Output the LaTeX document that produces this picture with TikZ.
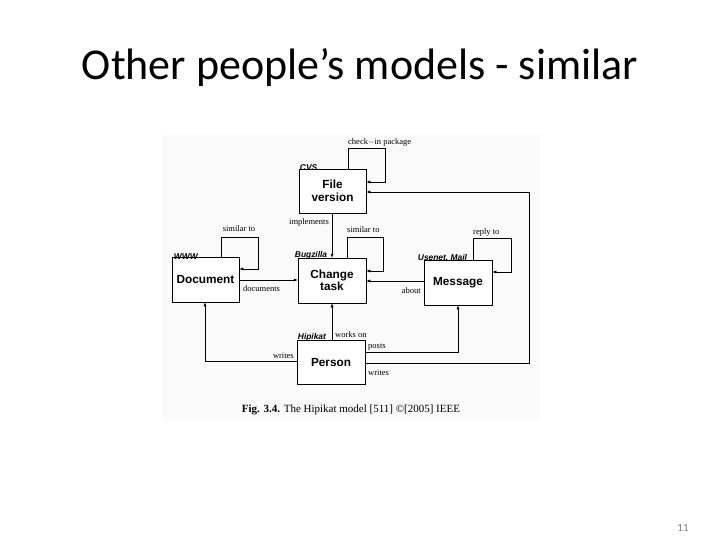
\documentclass[tikz,border=0pt]{standalone}
\usepackage{fontspec}
\setmainfont{Liberation Serif}
\setsansfont{Liberation Sans}
\newfontfamily\slidefont{Carlito}
\usetikzlibrary{arrows.meta}
\begin{document}
\begin{tikzpicture}[x=1pt,y=-1pt,
  box/.style={draw, line width=0.5pt, fill=white, inner sep=0pt, font=\sffamily\bfseries\fontsize{11.8}{12.5}\selectfont, align=center},
  tag/.style={font=\sffamily\bfseries\itshape\fontsize{8.4}{9}\selectfont, inner sep=0pt},
  lbl/.style={font=\fontsize{8.5}{9}\selectfont, inner sep=0pt},
  conn/.style={line width=0.5pt, -{Latex[length=4pt,width=3pt]}}]
\useasboundingbox (0,0) rectangle (720,540);
\fill[gray!4] (162,135) rectangle (540,420);
\node[font=\slidefont\fontsize{44}{48}\selectfont, anchor=base] (title) at (360,80) {Other people’s models - similar};
\node[font=\slidefont\fontsize{11}{12}\selectfont, text=gray, anchor=base] (pg) at (683,531) {11};

% boxes
\node[box, minimum width=67pt, minimum height=44pt] (fv) at (332.5,191) {File\\version};
\node[box, minimum width=67pt, minimum height=45pt] (doc) at (205.5,279.5) {Document};
\node[box, minimum width=68pt, minimum height=45pt] (ct) at (332,280.5) {Change\\task};
\node[box, minimum width=68pt, minimum height=45pt] (msg) at (458,282.5) {Message};
\node[box, minimum width=68pt, minimum height=44pt] (per) at (331,362) {Person};

% tags
\node[tag, anchor=south west] (tcvs) at ([xshift=1pt,yshift=-2pt]fv.north west) {CVS};
\node[tag, anchor=south west] (twww) at ([xshift=2pt,yshift=-3pt]doc.north west) {WWW};
\node[tag, anchor=south west] (tbug) at ([xshift=-3pt,yshift=-2pt]ct.north west) {Bugzilla};
\node[tag, anchor=south west] (tuse) at ([xshift=-6pt,yshift=-2pt]msg.north west) {Usenet, Mail};
\node[tag, anchor=south west] (thip) at ([xshift=1pt,yshift=-2pt]per.north west) {Hipikat};

% coordinates
\coordinate (c1a) at (348,148); \coordinate (c1b) at (385,148); \coordinate (c1c) at (385,182);
\coordinate (c2a) at (221,237); \coordinate (c2b) at (258,237); \coordinate (c2c) at (258,269);
\coordinate (c3a) at (347,237); \coordinate (c3b) at (383,237); \coordinate (c3c) at (383,271);
\coordinate (c4a) at (473,238); \coordinate (c4b) at (511,238); \coordinate (c4c) at (511,272);
\coordinate (c5a) at (205,361);
\coordinate (c6a) at (458,352);
\coordinate (c7a) at (529,363); \coordinate (c7b) at (529,192);

% check-in package
\draw[conn] (fv.north -| c1a) -- (c1a) -- (c1b) -- (c1c) -- (c1c -| fv.east);
\node[lbl, anchor=base west] (lchk) at (348,145) {check$-$in package};
% long writes loop
\draw[conn] (per.east |- c7a) -- (c7a) -- (c7b) -- (c7b -| fv.east);
\node[lbl, anchor=base west] (lwr2) at (368,375) {writes};
% implements
\draw[conn] (fv.south -| 332,0) -- (ct.north -| 332,0);
\node[lbl, anchor=base east] (limp) at (329,225) {implements};
% similar to (document)
\draw[conn] (doc.north -| c2a) -- (c2a) -- (c2b) -- (c2c) -- (c2c -| doc.east);
\node[lbl, anchor=base] (lsim1) at (239,232) {similar to};
% similar to (change task)
\draw[conn] (ct.north -| c3a) -- (c3a) -- (c3b) -- (c3c) -- (c3c -| ct.east);
\node[lbl, anchor=base west] (lsim2) at (347,233) {similar to};
% reply to
\draw[conn] (msg.north -| c4a) -- (c4a) -- (c4b) -- (c4c) -- (c4c -| msg.east);
\node[lbl, anchor=base west] (lrep) at (473,235) {reply to};
% documents
\draw[conn] (doc.east |- 0,280) -- (ct.west |- 0,280);
\node[lbl, anchor=base west] (ldoc) at (243,291) {documents};
% about
\draw[conn] (msg.west |- 0,281) -- (ct.east |- 0,281);
\node[lbl, anchor=base east] (labt) at (421,293) {about};
% works on
\draw[conn] (per.north -| 332,0) -- (ct.south -| 332,0);
\node[lbl, anchor=base west] (lwork) at (335,337) {works on};
% posts
\draw[conn] (per.east |- c6a) -- (c6a) -- (msg.south -| c6a);
\node[lbl, anchor=base west] (lpost) at (368,348) {posts};
% writes (document)
\draw[conn] (per.west |- c5a) -- (c5a) -- (doc.south -| c5a);
\node[lbl, anchor=base east] (lwr1) at (294,358) {writes};

% caption
\node[font=\fontsize{11}{12}\selectfont, anchor=base] (cap) at (351,412) {\textbf{Fig. 3.4.} The Hipikat model [511] ©[2005] IEEE};
\end{tikzpicture}
\end{document}
